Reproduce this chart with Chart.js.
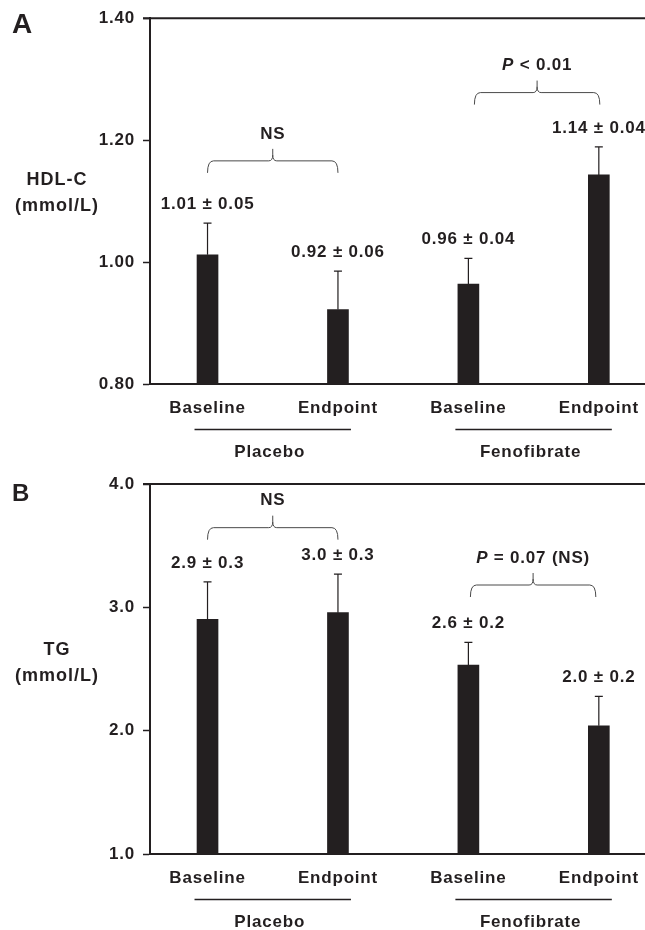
<!DOCTYPE html>
<html>
<head>
<meta charset="utf-8">
<script src="https://cdn.jsdelivr.net/npm/chart.js@4.4.1/dist/chart.umd.min.js"></script>
<style>
  html, body { margin: 0; padding: 0; background: #fff; }
  canvas { display: block; }
</style>
</head>
<body>
<canvas id="hdl" width="645" height="465"></canvas>
<canvas id="tg" width="645" height="465"></canvas>
<script>
const categories = ["Baseline", "Endpoint", "Baseline", "Endpoint"];
const groups = ["Placebo", "Fenofibrate"];

// panel A: HDL-C
const hdlMeans = [1.012, 0.922, 0.964, 1.143];
const hdlErrors = [0.052, 0.063, 0.042, 0.046];
const hdlLabels = ["1.01 ± 0.05", "0.92 ± 0.06", "0.96 ± 0.04", "1.14 ± 0.04"];
const hdlTicks = [0.8, 1.0, 1.2, 1.4];
const hdlBrackets = [
  { from: 0, to: 1, y: 1.166, text: [["NS"]] },
  { from: 2, to: 3, y: 1.278, text: [["P", true], [" < 0.01"]] },
];

// panel B: TG
const tgMeans = [2.903, 2.957, 2.532, 2.040];
const tgErrors = [0.303, 0.313, 0.184, 0.238];
const tgLabels = ["2.9 ± 0.3", "3.0 ± 0.3", "2.6 ± 0.2", "2.0 ± 0.2"];
const tgTicks = [1.0, 2.0, 3.0, 4.0];
const tgBrackets = [
  { from: 0, to: 1, y: 3.646, text: [["NS"]] },
  { from: 2, to: 3, y: 3.181, text: [["P", true], [" = 0.07 (NS)"]] },
];

const INK = "#231f20";
const FAMILY = '"Liberation Sans", Arial, Helvetica, sans-serif';
const font = (size, italic) => `${italic ? "italic " : ""}bold ${size}px ${FAMILY}`;

function drawRich(ctx, parts, cx, cy) {
  const widths = parts.map(([t, it]) => { ctx.font = font(17, it); return ctx.measureText(t).width; });
  let x = cx - widths.reduce((a, b) => a + b, 0) / 2;
  ctx.textAlign = "left";
  parts.forEach(([t, it], i) => {
    ctx.font = font(17, it);
    ctx.fillText(t, x, cy);
    x += widths[i];
  });
}

const annotate = {
  id: "annotate",
  beforeDraw(chart) {
    chart.ctx.letterSpacing = "0.8px";
  },
  afterDraw(chart, args, opts) {
    const { ctx, chartArea: area, scales: { x, y } } = chart;
    const px = (i) => x.getPixelForValue(i + 1);
    ctx.save();
    ctx.letterSpacing = "0.8px";
    ctx.fillStyle = INK;
    ctx.strokeStyle = INK;

    // top frame line
    ctx.lineWidth = 2;
    ctx.beginPath();
    ctx.moveTo(area.left - 7, area.top);
    ctx.lineTo(area.right, area.top);
    ctx.stroke();

    // error bars and value labels
    ctx.lineWidth = 1.2;
    ctx.textBaseline = "middle";
    opts.means.forEach((m, i) => {
      const cx = px(i);
      const top = y.getPixelForValue(m);
      const tip = y.getPixelForValue(m + opts.errors[i]);
      ctx.beginPath();
      ctx.moveTo(cx, top);
      ctx.lineTo(cx, tip);
      ctx.moveTo(cx - 4, tip);
      ctx.lineTo(cx + 4, tip);
      ctx.stroke();
      ctx.font = font(17);
      ctx.textAlign = "center";
      ctx.fillText(opts.labels[i], cx, tip - 19);
    });

    // significance brackets
    ctx.strokeStyle = "#4a4a4a";
    ctx.lineWidth = 1;
    opts.brackets.forEach((b) => {
      const x1 = px(b.from) + (b.dx1 || 0);
      const x2 = px(b.to) + (b.dx2 || 0);
      const yy = y.getPixelForValue(b.y);
      const xm = (x1 + x2) / 2;
      ctx.beginPath();
      ctx.moveTo(x1, yy + 12);
      ctx.quadraticCurveTo(x1, yy, x1 + 6, yy);
      ctx.lineTo(xm - 4, yy);
      ctx.quadraticCurveTo(xm, yy, xm, yy - 6);
      ctx.lineTo(xm, yy - 12);
      ctx.moveTo(xm, yy - 6);
      ctx.quadraticCurveTo(xm, yy, xm + 4, yy);
      ctx.lineTo(x2 - 6, yy);
      ctx.quadraticCurveTo(x2, yy, x2, yy + 12);
      ctx.stroke();
      drawRich(ctx, b.text, xm, yy - 27);
    });

    // group underlines and names
    ctx.strokeStyle = INK;
    ctx.lineWidth = 1.5;
    groups.forEach((g, gi) => {
      const a = px(gi * 2) - 13;
      const c = px(gi * 2 + 1) + 13;
      const ly = area.bottom + 45.5;
      ctx.beginPath();
      ctx.moveTo(a, ly);
      ctx.lineTo(c, ly);
      ctx.stroke();
      ctx.font = font(17);
      ctx.textAlign = "center";
      ctx.fillText(g, (a + c) / 2 - 3, area.bottom + 68);
    });

    // y title
    ctx.font = font(18);
    ctx.letterSpacing = "1px";
    ctx.textAlign = "center";
    opts.title.forEach((t, i) => ctx.fillText(t, 57, opts.titleY + i * 26));

    // panel letter
    ctx.font = font(opts.letterSize);
    ctx.letterSpacing = "0px";
    ctx.textAlign = "left";
    ctx.textBaseline = "alphabetic";
    ctx.fillText(opts.letter, 12, opts.letterY);
    ctx.restore();
  },
};

function buildPanel(id, cfg) {
  const tickFont = { family: FAMILY, size: 17, weight: "bold" };
  return new Chart(document.getElementById(id), {
    type: "bar",
    data: {
      datasets: [{
        data: cfg.means.map((v, i) => ({ x: i + 1, y: v })),
        backgroundColor: INK,
        borderWidth: 0,
        barThickness: 21,
      }],
    },
    options: {
      responsive: false,
      animation: false,
      layout: { padding: { top: cfg.top, left: 0, right: 0, bottom: 0 } },
      plugins: {
        legend: { display: false },
        tooltip: { enabled: false },
        annotate: {
          means: cfg.means, errors: cfg.errors, labels: cfg.labels,
          brackets: cfg.brackets, title: cfg.title, titleY: cfg.titleY,
          letter: cfg.letter, letterY: cfg.letterY, letterSize: cfg.letterSize,
        },
      },
      scales: {
        x: {
          type: "linear",
          min: 0.559,
          max: 4.354,
          offset: false,
          afterBuildTicks: (s) => { s.ticks = categories.map((_, i) => ({ value: i + 1 })); },
          afterFit: (s) => {
            s.height = cfg.xHeight;
            s.paddingLeft = 0;
            s.paddingRight = 0;
          },
          grid: { display: false, drawTicks: false },
          border: { display: true, color: INK, width: 2 },
          ticks: {
            callback: (v) => categories[v - 1],
            autoSkip: false,
            maxRotation: 0,
            padding: 14.5,
            color: INK,
            font: tickFont,
          },
        },
        y: {
          min: cfg.ticks[0],
          max: cfg.ticks[cfg.ticks.length - 1],
          afterBuildTicks: (s) => { s.ticks = cfg.ticks.map((v) => ({ value: v })); },
          afterFit: (s) => { s.width = 150; },
          grid: { drawOnChartArea: false, tickLength: 7, tickColor: INK, tickWidth: 1.5 },
          border: { display: true, color: INK, width: 2 },
          ticks: {
            callback: (v) => Number(v).toFixed(cfg.digits),
            padding: 8,
            color: INK,
            font: tickFont,
          },
        },
      },
    },
    plugins: [annotate],
  });
}

buildPanel("hdl", {
  means: hdlMeans, errors: hdlErrors, labels: hdlLabels, ticks: hdlTicks, digits: 2,
  brackets: hdlBrackets.map((b, i) => (i === 1 ? { ...b, dx1: 6, dx2: 1 } : b)),
  title: ["HDL-C", "(mmol/L)"], titleY: 180, letter: "A", letterY: 33, letterSize: 28,
  top: 16.5, xHeight: 81,
});

buildPanel("tg", {
  means: tgMeans, errors: tgErrors, labels: tgLabels, ticks: tgTicks, digits: 1,
  brackets: tgBrackets.map((b, i) => (i === 1 ? { ...b, dx1: 2, dx2: -3 } : b)),
  title: ["TG", "(mmol/L)"], titleY: 185, letter: "B", letterY: 36, letterSize: 24,
  top: 19, xHeight: 76,
});
</script>
</body>
</html>
